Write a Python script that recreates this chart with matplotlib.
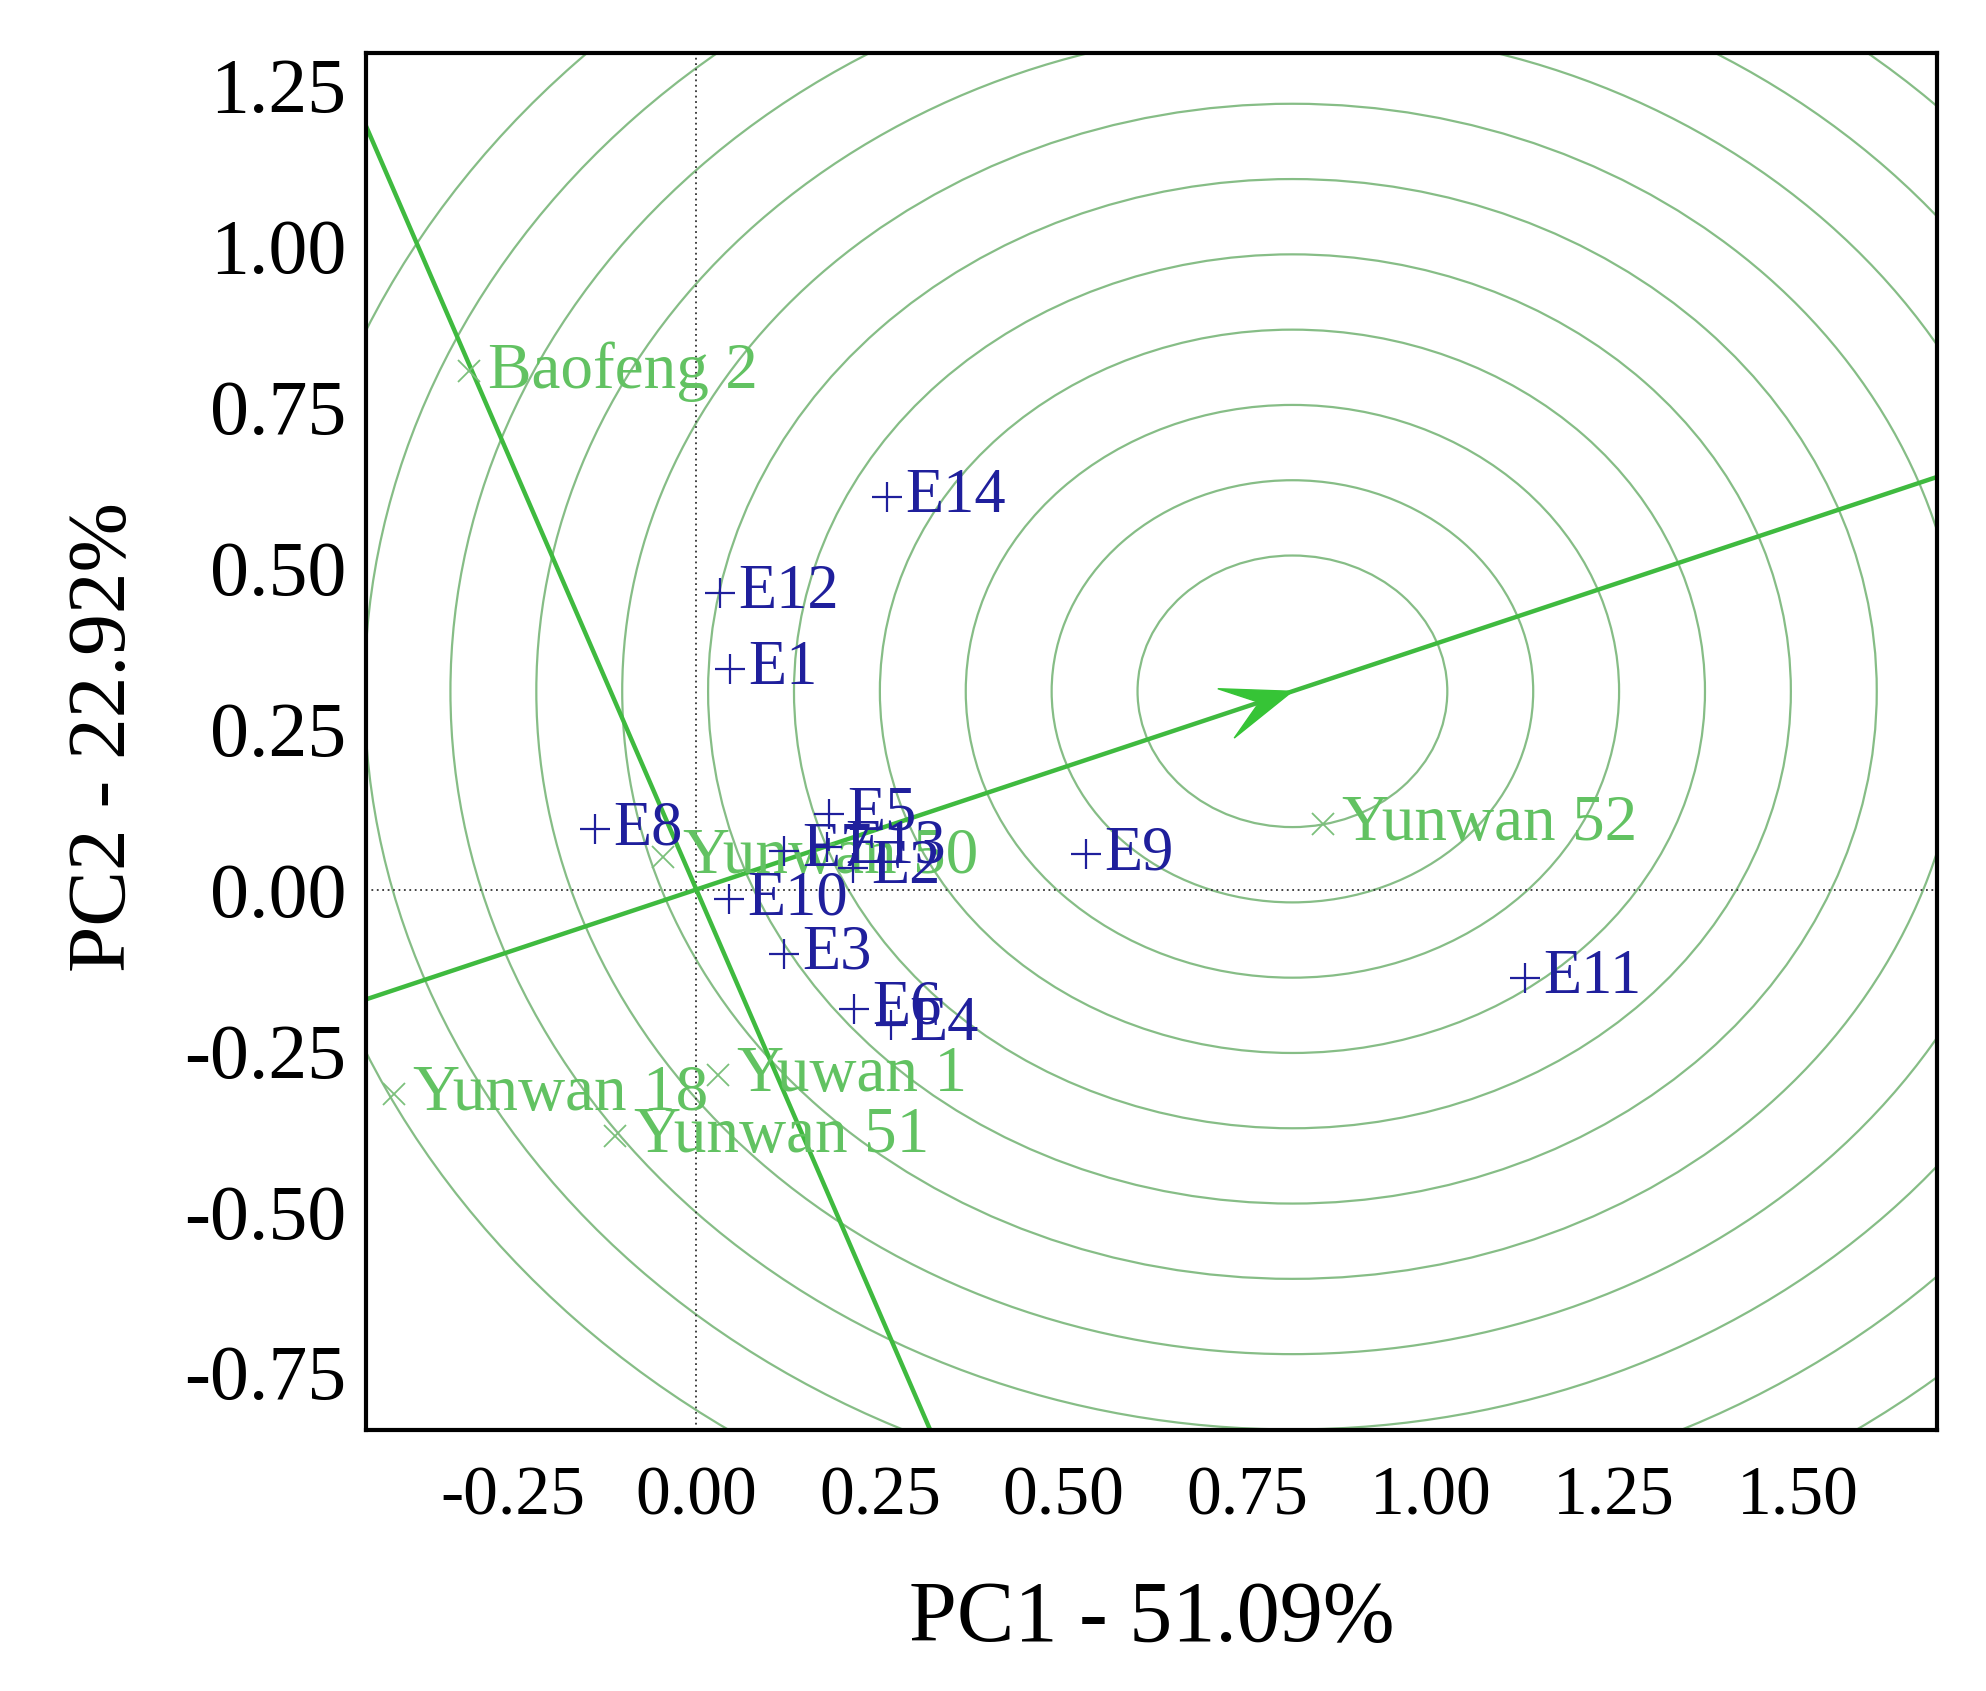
import numpy as np
import matplotlib.pyplot as plt
from matplotlib.patches import Circle, Polygon
from matplotlib.transforms import IdentityTransform

plt.rcParams.update({
    "font.family": ["Liberation Serif", "DejaVu Serif"],
    "axes.unicode_minus": False,
})

# environments (blue +)
env_names = ["E1", "E2", "E3", "E4", "E5", "E6", "E7", "E8", "E9", "E10", "E11", "E12", "E13", "E14"]
env_x = [0.046, 0.214, 0.120, 0.265, 0.181, 0.215, 0.119, -0.138, 0.531, 0.045, 1.129, 0.032, 0.178, 0.260]
env_y = [0.343, 0.033, -0.100, -0.210, 0.117, -0.185, 0.060, 0.094, 0.055, -0.015, -0.138, 0.460, 0.066, 0.610]

# genotypes (green x)
gen_names = ["Baofeng 2", "Yunwan 52", "Yunwan 18", "Yuwan 1", "Yunwan 51", "Yunwan 50"]
gen_x = [-0.310, 0.853, -0.412, 0.029, -0.111, -0.045]
gen_y = [0.805, 0.102, -0.318, -0.289, -0.383, 0.050]

# average environment coordinate (arrow head, centre of the rings)
aec_x, aec_y = 0.812, 0.308
ring_radii = [0.211, 0.328, 0.445, 0.562, 0.679, 0.796, 0.913, 1.030, 1.147, 1.264, 1.381]

x_ticks = [-0.25, 0.00, 0.25, 0.50, 0.75, 1.00, 1.25, 1.50]
y_ticks = [-0.75, -0.50, -0.25, 0.00, 0.25, 0.50, 0.75, 1.00, 1.25]
x_lim = (-0.45, 1.69)
y_lim = (-0.84, 1.30)

ENV_COL = "#1f1f9c"
GEN_COL = "#62c262"
RING_COL = "#86bd86"
LINE_COL = "#3fba3f"

fig = plt.figure(figsize=(19.86, 16.91), dpi=100)
ax = fig.add_axes([0.1843, 0.1543, 0.9753 - 0.1843, 0.9687 - 0.1543])
ax.set_xlim(*x_lim)
ax.set_ylim(*y_lim)

for r in ring_radii:
    ax.add_patch(Circle((aec_x, aec_y), r, fill=False, ec=RING_COL, lw=1.6, zorder=1))

ax.axhline(0, color="#333333", ls=(0, (1, 2)), lw=1.3, zorder=1.5)
ax.axvline(0, color="#333333", ls=(0, (1, 2)), lw=1.3, zorder=1.5)

# AEC abscissa and ordinate
ax.axline((0, 0), (aec_x, aec_y), color=LINE_COL, lw=3.2, zorder=2)
ax.axline((0, 0), slope=-aec_x / aec_y, color=LINE_COL, lw=3.2, zorder=2)

# notched arrow head at the average environment, built in pixel space
tip = ax.transData.transform((aec_x, aec_y))
base = ax.transData.transform((0, 0))
u = (tip - base) / np.linalg.norm(tip - base)
n = np.array([-u[1], u[0]])
L, W = 70, 26
head = [tip, tip - L * u + W * n, tip - 0.5 * L * u, tip - L * u - W * n]
ax.add_patch(Polygon(head, closed=True, fc="#36c436", ec="#36c436",
                     transform=IdentityTransform(), zorder=3))

ax.plot(gen_x, gen_y, ls="none", marker="x", ms=16, mew=1.3, color="#7cc07c", zorder=4)
for name, x, y in zip(gen_names, gen_x, gen_y):
    ax.annotate(name, (x, y), xytext=(14, 0), textcoords="offset points",
                ha="left", va="center", fontsize=47, color=GEN_COL, zorder=4)

ax.plot(env_x, env_y, ls="none", marker="+", ms=22, mew=1.6, color=ENV_COL, zorder=5)
for name, x, y in zip(env_names, env_x, env_y):
    ax.annotate(name, (x, y), xytext=(13, 0), textcoords="offset points",
                ha="left", va="center", fontsize=45, color=ENV_COL, zorder=5)

ax.set_xticks(x_ticks)
ax.set_yticks(y_ticks)
ax.set_xticklabels(["%.2f" % t for t in x_ticks], fontsize=50)
ax.set_yticklabels(["%.2f" % t for t in y_ticks], fontsize=56)
ax.tick_params(axis="x", length=0, pad=26)
ax.tick_params(axis="y", length=0, pad=14)
for s in ax.spines.values():
    s.set_linewidth(3)
    s.set_color("black")

fig.text(0.580, 0.042, "PC1 - 51.09%", ha="center", va="center", fontsize=62)
fig.text(0.053, 0.564, "PC2 - 22.92%", ha="center", va="center", rotation=90, fontsize=60)

fig.savefig("out.png", dpi=100)
